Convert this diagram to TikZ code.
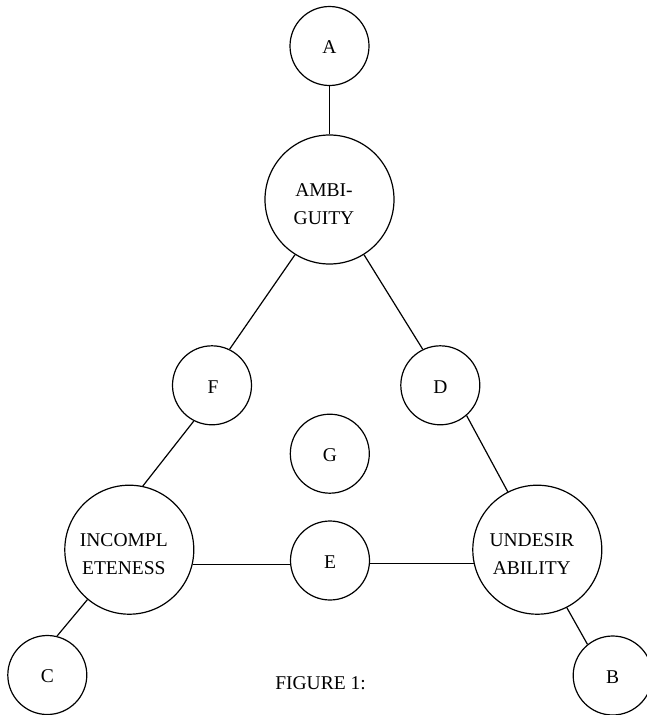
\documentclass[tikz,border=0pt]{standalone}
\usepackage{fontspec}
\setmainfont{Liberation Serif}
\begin{document}
\begin{tikzpicture}[x=1pt,y=-1pt,
  line width=1.2pt,
  bigc/.style={draw,circle,minimum size=129pt,inner sep=0pt},
  smallc/.style={draw,circle,minimum size=79pt,inner sep=0pt},
  txt/.style={font=\fontsize{19.5}{28}\selectfont,align=center,inner sep=0pt},
  conn/.style={line width=1.2pt}]
\useasboundingbox (0,0) rectangle (646,715);
% circles
\node[smallc] (A) at (329.5,46) {};
\node[bigc] (amb) at (329.5,199.5) {};
\node[smallc] (F) at (212,385.3) {};
\node[smallc] (D) at (440.3,385.3) {};
\node[smallc] (G) at (329.8,453.7) {};
\node[bigc] (inc) at (129.3,549.7) {};
\node[smallc] (E) at (330,560.5) {};
\node[bigc] (und) at (537.3,549.7) {};
\node[smallc] (C) at (47.3,675) {};
\node[smallc] (B) at (612.7,675.5) {};
% labels
\node[txt] (tA) at ([yshift=-1.5pt]A.center) {A};
\node[txt] (tamb) at ([xshift=-5.5pt,yshift=-4.5pt]amb.center) {AMBI-\\GUITY};
\node[txt] (tF) at ([xshift=1pt,yshift=-1.5pt]F.center) {F};
\node[txt] (tD) at ([yshift=-1.5pt]D.center) {D};
\node[txt] (tG) at ([yshift=-1.5pt]G.center) {G};
\node[txt] (tinc) at ([xshift=-5.5pt,yshift=-4.5pt]inc.center) {INCOMPL\\ETENESS};
\node[txt] (tE) at ([yshift=-1.5pt]E.center) {E};
\node[txt] (tund) at ([xshift=-5.5pt,yshift=-4.5pt]und.center) {UNDESIR\\ABILITY};
\node[txt] (tC) at ([yshift=-1.5pt]C.center) {C};
\node[txt] (tB) at ([yshift=-1.5pt]B.center) {B};
\node[txt] (fig) at (320.5,682.8) {FIGURE 1:};
% connectors
\draw[conn] (A) -- (amb);
\draw[conn] (amb.238) -- (F.64);
\draw[conn] (amb.302) -- (D.116);
\draw[conn] (F.243) -- (inc.78);
\draw[conn] (D.311) -- (und.117);
\draw[conn] (inc.230) -- (C.76);
\draw[conn] (und.297) -- (B.129);
\draw[conn] (inc.-13) -- (inc.-13 -| E.west);
\draw[conn] (und.192) -- (und.192 -| E.east);
\end{tikzpicture}
\end{document}
